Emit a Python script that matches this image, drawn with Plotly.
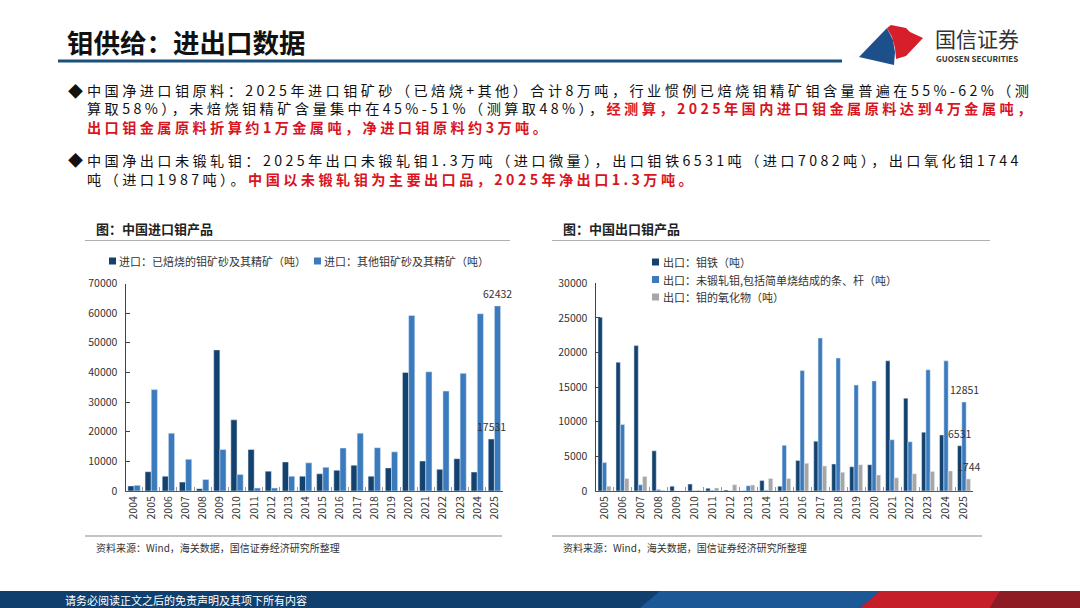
import plotly.graph_objects as go

W, H = 1080, 608
def px(x): return x / W
def py(y): return 1 - y / H

FONT = "Noto Sans CJK SC"

# ---------------- data ----------------
years_imp = [str(y) for y in range(2004, 2026)]
imp_roasted = [1700, 6500, 5000, 3000, 800, 47600, 24000, 14000, 6700, 9800, 5000,
               5800, 7000, 8700, 5000, 7800, 40000, 10100, 7300, 10900, 6400, 17531]
imp_other = [1900, 34200, 19500, 10700, 3900, 14000, 5600, 1000, 1000, 5000, 9500,
             8000, 14500, 19500, 14600, 13200, 59200, 40200, 33700, 39700, 59800, 62432]

years_exp = [str(y) for y in range(2005, 2026)]
exp_ferro = [25100, 18600, 21000, 5800, 700, 1000, 400, 150, 50, 1500, 700,
             4400, 7200, 3900, 3500, 3800, 18800, 13400, 8500, 8100, 6531]
exp_unwrought = [4100, 9600, 900, 200, 0, 50, 100, 50, 750, 100, 6600,
                 17400, 22100, 19200, 15300, 15900, 7400, 7100, 17500, 18800, 12851]
exp_oxide = [700, 1800, 2100, 100, 0, 100, 450, 900, 850, 1800, 1800,
             4000, 3600, 2700, 3800, 2300, 1900, 2500, 2800, 2900, 1744]

imp_names = ["进口：已焙烧的钼矿砂及其精矿（吨）", "进口：其他钼矿砂及其精矿（吨）"]
exp_names = ["出口：钼铁（吨）", "出口：未锻轧钼,包括简单烧结成的条、杆（吨）", "出口：钼的氧化物（吨）"]

C_DARK = "#13426f"
C_MID = "#3b7bbd"
C_GRAY = "#a6a6a6"

BARGAP = 0.28
L_DOM = (125.5, 503)
R_DOM = (595.5, 973)

fig = go.Figure()

for vals, name, col in [(imp_roasted, imp_names[0], C_DARK), (imp_other, imp_names[1], C_MID)]:
    fig.add_trace(go.Bar(x=years_imp, y=vals, name=name, marker_color=col,
                         showlegend=False, xaxis="x", yaxis="y"))

for vals, name, col in [(exp_ferro, exp_names[0], C_DARK), (exp_unwrought, exp_names[1], C_MID),
                        (exp_oxide, exp_names[2], C_GRAY)]:
    fig.add_trace(go.Bar(x=years_exp, y=vals, name=name, marker_color=col,
                         showlegend=False, xaxis="x2", yaxis="y2"))

xcommon = dict(showgrid=False, zeroline=False, showline=True, linecolor="#555",
               linewidth=1, ticks="inside", ticklen=4, tickcolor="#999",
               tickfont=dict(size=10.5, color="#333", family=FONT))
ycommon = dict(showgrid=False, zeroline=False, showline=True, linecolor="#444",
               linewidth=1, ticks="inside", ticklen=4, tickcolor="#444",
               tickfont=dict(size=10.5, color="#333", family=FONT), tickformat="d",
               ticklabelstandoff=5)

fig.update_layout(
    width=W, height=H, margin=dict(l=0, r=0, t=0, b=0, pad=0, autoexpand=False),
    paper_bgcolor="white", plot_bgcolor="white",
    font=dict(family=FONT, color="#333"),
    barmode="group", bargap=BARGAP, bargroupgap=0, showlegend=False,
    xaxis=dict(domain=[px(L_DOM[0]), px(L_DOM[1])], anchor="y", type="category",
               categoryorder="array", categoryarray=years_imp,
               range=[-0.5, len(years_imp) - 0.5],
               tickangle=-90, tickson="boundaries", **xcommon),
    yaxis=dict(domain=[py(491), py(283.5)], anchor="x", range=[0, 70000], dtick=10000,
               **ycommon),
    xaxis2=dict(domain=[px(R_DOM[0]), px(R_DOM[1])], anchor="y2", type="category",
                categoryorder="array", categoryarray=years_exp,
                range=[-0.5, len(years_exp) - 0.5],
                tickangle=-90, tickson="boundaries", **xcommon),
    yaxis2=dict(domain=[py(491), py(283.3)], anchor="x2", range=[0, 30000], dtick=5000,
                **ycommon),
)

shapes = []
ann = []

def A(x, y, text, size, color="#333", xanchor="left"):
    ann.append(dict(xref="paper", yref="paper", x=px(x), y=py(y), text=text, showarrow=False,
                    xanchor=xanchor, yanchor="middle", borderpad=0,
                    font=dict(size=size, color=color, family=FONT)))

def L(x0, x1, y, color, width):
    shapes.append(dict(type="line", xref="paper", yref="paper", x0=px(x0), x1=px(x1),
                       y0=py(y), y1=py(y), line=dict(color=color, width=width)))

def R(x0, y0, x1, y1, color):
    shapes.append(dict(type="rect", xref="paper", yref="paper", x0=px(x0), x1=px(x1),
                       y0=py(y1), y1=py(y0), fillcolor=color, line=dict(width=0)))

def path(pts):
    return "M " + " L ".join(f"{px(x)},{py(y)}" for x, y in pts) + " Z"

def P(pts, color, opacity=1):
    shapes.append(dict(type="path", xref="paper", yref="paper", path=path(pts),
                       fillcolor=color, line=dict(width=0), opacity=opacity))

# value labels of the last year (placed on the data via the axes; x is the category index)
def value_labels(xa, ya, cats, series, dom):
    n_cat = len(cats)
    cat_w = (dom[1] - dom[0]) / n_cat
    bar_w = cat_w * (1 - BARGAP) / len(series)
    k = len(series)
    for i, vals in enumerate(series):
        off = (i - (k - 1) / 2) * bar_w
        ann.append(dict(xref=xa, yref=ya, x=n_cat - 1, y=vals[-1], text=str(vals[-1]),
                        showarrow=False, xanchor="center", yanchor="middle",
                        xshift=off, yshift=12.5,
                        font=dict(size=10.5, color="#333", family=FONT)))

value_labels("x", "y", years_imp, [imp_roasted, imp_other], L_DOM)
value_labels("x2", "y2", years_exp, [exp_ferro, exp_unwrought, exp_oxide], R_DOM)

# title + underline
A(66, 42, "<b>钼供给：进出口数据</b>", 26.5, "#111")
L(58, 842, 61, "#1b4f7c", 3)

# logo
P([(859, 57), (887, 28), (893, 40), (895, 52), (894, 65)], "#1d4f8a")
P([(887, 28), (891, 25), (906, 28), (910, 32), (923, 38), (906, 56), (896, 59), (895, 48), (892, 37)], "#d71f2b")
A(934, 38, "国信证券", 21, "#333")
A(935, 58, "<b>GUOSEN SECURITIES</b>", 8, "#333")

# bullet text
RED = "#d9141e"
TS = 14.2
LS = "letter-spacing:3.4px"
def red(t):
    return f"<span style='color:{RED}'><b>{t}</b></span>"
def sp(t):
    return f"<span style='{LS}'>{t}</span>"
lines = [
    (67, 90, "◆", 15),
    (86, 90, sp("中国净进口钼原料：2025年进口钼矿砂（已焙烧+其他）合计8万吨，行业惯例已焙烧钼精矿钼含量普遍在55%-62%（测"), TS),
    (86, 108.5, sp("算取58%），未焙烧钼精矿含量集中在45%-51%（测算取48%），"
                   + red("经测算，2025年国内进口钼金属原料达到4万金属吨，")), TS),
    (86, 127, sp(red("出口钼金属原料折算约1万金属吨，净进口钼原料约3万吨。")), TS),
    (67, 160, "◆", 15),
    (86, 160, sp("中国净出口未锻轧钼：2025年出口未锻轧钼1.3万吨（进口微量），出口钼铁6531吨（进口7082吨），出口氧化钼1744"), TS),
    (86, 178.5, sp("吨（进口1987吨）。" + red("中国以未锻轧钼为主要出口品，2025年净出口1.3万吨。")), TS),
]
for x, y, t, s in lines:
    A(x, y, t, s, "#111")

# chart titles, separators, sources
for x0, x1, tx, title in [(85, 510, 95, "<b>图：中国进口钼产品</b>"), (552, 990, 562, "<b>图：中国出口钼产品</b>")]:
    A(tx, 228, title, 13, "#222")
    L(x0, x1, 240.5, "#b0b0b0", 1)
    L(x0, x1 - 8, 536, "#b0b0b0", 1.5)
    A(tx, 547, "资料来源：Wind，海关数据，国信证券经济研究所整理", 10, "#333")

# legends (left: one row, right: three rows)
LF = 11
for (sx, sy, tx), name, col in [((109, 261, 118), imp_names[0], C_DARK),
                                ((314, 261, 323), imp_names[1], C_MID)]:
    R(sx, sy - 3.5, sx + 7, sy + 3.5, col)
    A(tx, sy, name, LF, "#333")
for (sx, sy, tx), name, col in [((652, 262, 662), exp_names[0], C_DARK),
                                ((652, 279.5, 662), exp_names[1], C_MID),
                                ((652, 297, 662), exp_names[2], C_GRAY)]:
    R(sx, sy - 3.5, sx + 7, sy + 3.5, col)
    A(tx, sy, name, LF, "#333")

# footer band
P([(0, 591), (1080, 591), (1080, 608), (0, 608)], "#103f6e")
P([(640, 608), (660, 591), (880, 591), (860, 608)], "#1f5f9f", 0.8)
P([(860, 608), (880, 591), (1000, 591), (990, 608)], "#c51f2a")
P([(990, 608), (1000, 591), (1080, 591), (1080, 608)], "#8e1c24")
A(64, 600, "请务必阅读正文之后的免责声明及其项下所有内容", 11, "white")

fig.update_layout(shapes=shapes, annotations=ann)
fig.write_html("out.html", config={"displayModeBar": False},
               post_script="document.body.style.margin='0';document.body.style.padding='0';")
